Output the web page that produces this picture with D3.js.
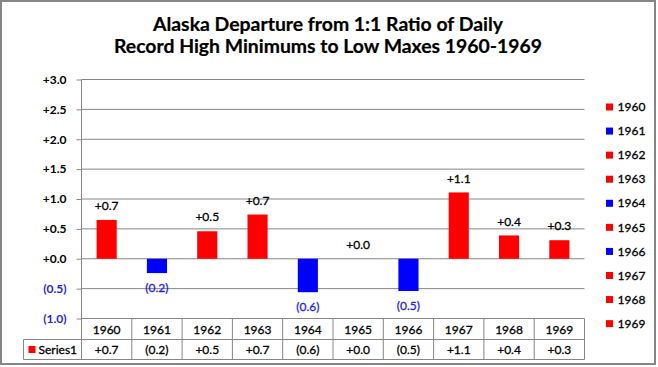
<!DOCTYPE html>
<html>
<head>
<meta charset="utf-8">
<script src="https://cdn.jsdelivr.net/npm/d3@7"></script>
<style>
  html, body { margin: 0; padding: 0; background: #fff; }
  svg { display: block; }
  text { font-family: Lato, "Open Sans", sans-serif; }
  text.reg { stroke-width: 0.3px; paint-order: stroke; }
</style>
</head>
<body>
<svg id="chart" width="658" height="367"></svg>
<script>
// ---- data ----
const titleLines = ["Alaska Departure from 1:1 Ratio of Daily", "Record High Minimums to Low Maxes 1960-1969"];
const years = ["1960", "1961", "1962", "1963", "1964", "1965", "1966", "1967", "1968", "1969"];
const values = [0.65, -0.24, 0.46, 0.74, -0.56, 0.0, -0.54, 1.11, 0.39, 0.31];
const yTicks = [-1, -0.5, 0, 0.5, 1, 1.5, 2, 2.5, 3];
const seriesName = "Series1";

// ---- styles ----
const RED = "#FF0000", BLUE = "#0000FF", NEG_TEXT = "#1F1FF0", GRID = "#868686";
const fmt = v => v < 0 ? "(" + d3.format(".1f")(-v) + ")" : "+" + d3.format(".1f")(v);
const colorOf = v => v < 0 ? BLUE : RED;
const FS = 12;

const svg = d3.select("#chart");
svg.append("rect").attr("width", 658).attr("height", 367).attr("fill", "#fff");
svg.append("rect").attr("x", 1).attr("y", 1).attr("width", 654).attr("height", 363)
  .attr("fill", "none").attr("stroke", GRID).attr("stroke-width", 2);

// title
const titleW = [350, 428];
svg.selectAll("text.title").data(titleLines).join("text")
  .attr("class", "title")
  .attr("x", 328).attr("y", (d, i) => 30.7 + i * 22.7)
  .attr("text-anchor", "middle")
  .attr("font-size", 18).attr("font-weight", "bold").attr("fill", "#000")
  .attr("stroke", "#000").attr("stroke-width", 0.2)
  .attr("textLength", (d, i) => titleW[i]).attr("lengthAdjust", "spacingAndGlyphs")
  .text(d => d);

// scales
const x = d3.scaleBand().domain(years).range([81.5, 584.5]).padding(0);
const y = d3.scaleLinear().domain([-1, 3]).range([318.5, 79.5]);
const tableTop = y(-1), rowMid = 339.5, tableBottom = 359.5, labelLeft = 23.5;

// gridlines
svg.append("g").selectAll("line").data(yTicks).join("line")
  .attr("x1", x.range()[0]).attr("x2", x.range()[1])
  .attr("y1", d => y(d)).attr("y2", d => y(d))
  .attr("stroke", GRID).attr("stroke-width", 1);

// y axis
const yAxis = d3.axisLeft(y).tickValues(yTicks).tickSize(5).tickSizeOuter(0).tickPadding(10).tickFormat(fmt);
const gy = svg.append("g").attr("transform", `translate(${x.range()[0]},0)`).call(yAxis);
gy.select(".domain").remove();
gy.selectAll(".tick line").attr("stroke", GRID);
gy.selectAll(".tick text")
  .attr("font-family", "Lato, 'Open Sans', sans-serif")
  .attr("font-size", 12).attr("font-weight", "bold")
  .attr("fill", d => d < 0 ? NEG_TEXT : "#000");
svg.append("line").attr("x1", x.range()[0]).attr("x2", x.range()[0])
  .attr("y1", y(3)).attr("y2", tableBottom).attr("stroke", GRID);

// bars
const bw = x.bandwidth() * 0.4;
svg.append("g").selectAll("rect").data(years).join("rect")
  .attr("x", d => x(d) + (x.bandwidth() - bw) / 2)
  .attr("width", bw)
  .attr("y", (d, i) => y(Math.max(0, values[i])))
  .attr("height", (d, i) => Math.abs(y(values[i]) - y(0)))
  .attr("fill", (d, i) => colorOf(values[i]));

// data labels
svg.append("g").selectAll("text").data(years).join("text")
  .attr("class", "reg")
  .attr("x", d => x(d) + x.bandwidth() / 2)
  .attr("y", (d, i) => values[i] < 0 ? y(values[i]) + 15 : y(values[i]) - 14)
  .attr("dy", "0.35em")
  .attr("text-anchor", "middle")
  .attr("font-size", FS)
  .attr("fill", (d, i) => values[i] < 0 ? NEG_TEXT : "#000")
  .attr("stroke", (d, i) => values[i] < 0 ? NEG_TEXT : "#000")
  .text((d, i) => fmt(values[i]));

// data table
const tg = svg.append("g").attr("stroke", GRID).attr("stroke-width", 1);
tg.append("line").attr("x1", labelLeft).attr("x2", x.range()[1]).attr("y1", rowMid).attr("y2", rowMid);
tg.append("line").attr("x1", labelLeft).attr("x2", x.range()[1]).attr("y1", tableBottom).attr("y2", tableBottom);
tg.append("line").attr("x1", labelLeft).attr("x2", labelLeft).attr("y1", rowMid).attr("y2", tableBottom);
tg.selectAll("line.col").data(years).join("line").attr("class", "col")
  .attr("x1", d => x(d) + x.bandwidth()).attr("x2", d => x(d) + x.bandwidth())
  .attr("y1", tableTop).attr("y2", tableBottom);

svg.append("g").selectAll("text").data(years).join("text")
  .attr("class", "reg").attr("stroke", "#000")
  .attr("x", d => x(d) + x.bandwidth() / 2).attr("y", (tableTop + rowMid) / 2 + 1)
  .attr("dy", "0.35em").attr("text-anchor", "middle").attr("font-size", FS).attr("fill", "#000")
  .text(d => d);
svg.append("g").selectAll("text").data(years).join("text")
  .attr("class", "reg").attr("stroke", "#000")
  .attr("x", d => x(d) + x.bandwidth() / 2).attr("y", (rowMid + tableBottom) / 2)
  .attr("dy", "0.35em").attr("text-anchor", "middle").attr("font-size", FS).attr("fill", "#000")
  .text((d, i) => fmt(values[i]));
svg.append("rect").attr("x", 28.5).attr("y", 346).attr("width", 7).attr("height", 7).attr("fill", RED);
svg.append("text").attr("class", "reg").attr("stroke", "#000")
  .attr("x", 38.5).attr("y", (rowMid + tableBottom) / 2).attr("dy", "0.35em")
  .attr("font-size", FS).attr("fill", "#000").text(seriesName);

// legend
const lg = svg.append("g").selectAll("g").data(years).join("g")
  .attr("transform", (d, i) => `translate(606, ${107 + i * 24.07})`);
lg.append("rect").attr("x", 0).attr("y", -3.5).attr("width", 7).attr("height", 7)
  .attr("fill", (d, i) => colorOf(values[i]));
lg.append("text").attr("class", "reg").attr("stroke", "#000")
  .attr("x", 11.5).attr("y", 0).attr("dy", "0.35em")
  .attr("font-size", FS).attr("fill", "#000").text(d => d);
</script>
</body>
</html>
